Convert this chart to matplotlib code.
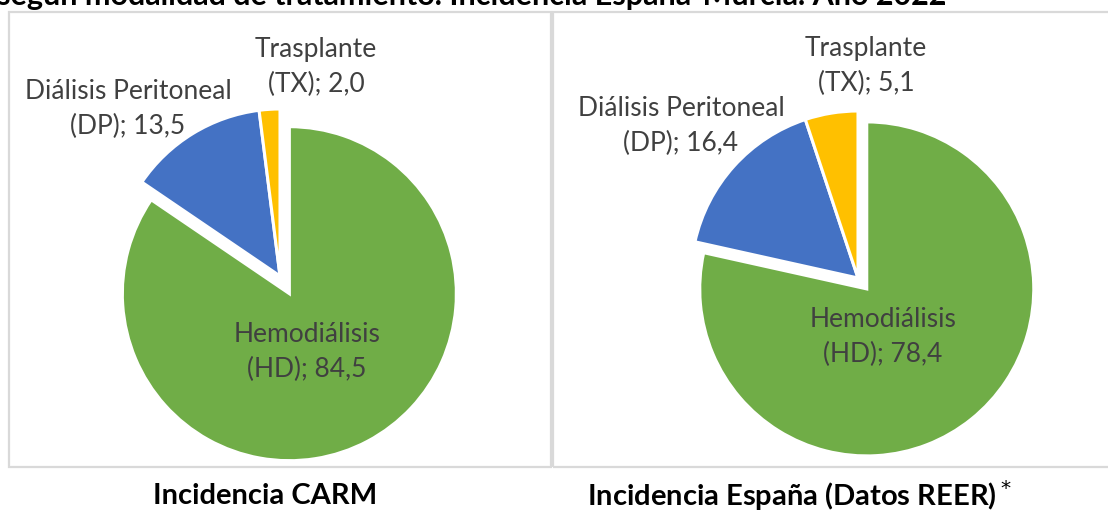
import matplotlib
matplotlib.use("Agg")
import matplotlib.pyplot as plt
from matplotlib.patches import Rectangle

W, H = 1108, 512

labels = ["Hemodiálisis\n(HD)", "Diálisis Peritoneal\n(DP)", "Trasplante\n(TX)"]
carm_values = [84.5, 13.5, 2.0]
spain_values = [78.4, 16.4, 5.1]
colors = ["#70AD47", "#4472C4", "#FFC000"]

title_top = "según modalidad de tratamiento. Incidencia España-Murcia. Año 2022"
title_left = "Incidencia CARM"
title_right = "Incidencia España (Datos REER)"

FONT = ["Lato", "DejaVu Sans"]
TXT = "#404040"

fig = plt.figure(figsize=(W / 100, H / 100), dpi=100)
ax = fig.add_axes([0, 0, 1, 1])


def py(y):
    return H - y


def fmt(v):
    return f"{v:.1f}".replace(".", ",")


def draw_pie(values, center, r, explode, label_pos):
    ax.pie(values, colors=colors, startangle=90, counterclock=False,
           center=(center[0], py(center[1])), radius=r,
           explode=[explode, 0, 0],
           wedgeprops=dict(edgecolor="white", linewidth=2.2),
           frame=True)
    for lab, v, (lx, ly) in zip(labels, values, label_pos):
        name, code = lab.split("\n")
        ax.text(lx, py(ly), f"{name}\n{code}; {fmt(v)}", ha="center",
                va="center", fontsize=19, color=TXT, family=FONT,
                linespacing=1.5)


draw_pie(carm_values, (280, 276), 167, 20,
         [(307, 352), (128, 109), (316, 67)])
draw_pie(spain_values, (858, 278), 167, 14,
         [(883, 337), (681, 126), (866, 66)])

ax.set_xlim(0, W)
ax.set_ylim(0, H)
ax.set_aspect("equal")
ax.axis("off")

# panel borders
for x0, x1 in [(9, 551), (553, 1120)]:
    ax.add_patch(Rectangle((x0, py(467)), x1 - x0, 467 - 12, fill=False,
                           edgecolor="#D9D9D9", linewidth=1.6, zorder=0))

ax.text(-3, py(5), title_top, ha="left", va="baseline", fontsize=22,
        fontweight="bold", color="black", family=FONT)
ax.text(265, py(496), title_left, ha="center", va="center", fontsize=21,
        fontweight="bold", color="black", family=FONT)
ax.text(587, py(496), title_right + r"$^*$", ha="left", va="center",
        fontsize=21, fontweight="bold", color="black", family=FONT)

fig.savefig("out.png", dpi=100)
